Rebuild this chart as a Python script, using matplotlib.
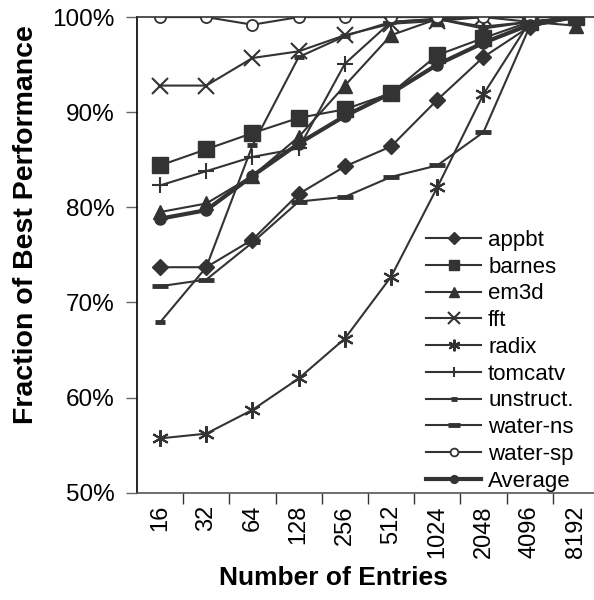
import matplotlib
matplotlib.use("Agg")
import matplotlib.pyplot as plt

plt.rcParams['font.family'] = ['Liberation Sans', 'DejaVu Sans']

entries = ['16', '32', '64', '128', '256', '512', '1024', '2048', '4096', '8192']

appbt = [73.7, 73.7, 76.6, 81.4, 84.3, 86.4, 91.3, 95.8, 99.0, 100.0]
barnes = [84.4, 86.1, 87.8, 89.4, 90.3, 92.0, 96.0, 97.8, 99.5, 100.0]
em3d = [79.5, 80.4, 83.3, 87.4, 92.8, 98.1, 99.8, 98.8, 99.5, 99.1]
fft = [92.8, 92.8, 95.7, 96.4, 98.1, 99.3, 99.6, 100.0, 100.0, 100.0]
radix = [55.7, 56.2, 58.7, 62.0, 66.2, 72.7, 82.1, 91.9, 99.5, 100.0]
tomcatv = [82.3, 83.8, 85.3, 86.2, 95.1, 99.5, 99.8, 100.0, 99.5, 100.0]
unstruct = [67.9, 73.7, 86.5, 95.8, 98.0, 99.5, 99.8, 99.0, 99.5, 100.0]
water_ns = [71.7, 72.4, 76.3, 80.6, 81.1, 83.2, 84.4, 87.9, 99.0, 100.0]
water_sp = [100.0, 100.0, 99.2, 100.0, 100.0, 100.0, 100.0, 100.0, 100.0, 100.0]
average = [78.8, 79.7, 83.3, 86.7, 89.6, 92.0, 95.0, 97.3, 99.2, 100.0]

c = '#333333'
x = list(range(len(entries)))

fig = plt.figure(figsize=(5.94, 6.0), dpi=100)
ax = fig.add_axes([0.2306, 0.179, 0.7778, 0.7925])

# (label, values, marker, markersize, extra kwargs)
series = [
    ('appbt', appbt, 'D', 8.5, {}),
    ('barnes', barnes, 's', 11, {}),
    ('em3d', em3d, '^', 10, {}),
    ('fft', fft, 'x', 12, {'mew': 1.5}),
    ('radix', radix, (6, 2, 0), 12, {'mew': 1.5}),
    ('tomcatv', tomcatv, '+', 11, {'mew': 1.5}),
    ('unstruct.', unstruct, '_', 7, {'mew': 3.5}),
    ('water-ns', water_ns, '_', 12, {'mew': 3.5}),
    ('water-sp', water_sp, 'o', 8, {'mfc': 'white', 'mew': 1.3}),
]
for name, vals, m, ms, kw in series:
    ax.plot(x, vals, color=c, lw=1.5, marker=m, ms=ms, mec=c, label=name, **kw)
ax.plot(x, average, color=c, lw=3, marker='o', ms=8, label='Average')

ax.set_xlim(-0.5, 9.5)
ax.set_ylim(50, 100)
ax.set_yticks([50, 60, 70, 80, 90, 100])
ax.set_yticklabels(['%d%%' % v for v in [50, 60, 70, 80, 90, 100]])
ax.tick_params(axis='y', length=8, width=1, color='#666666', pad=8, labelsize=17.5)

ax.set_xticks(x)
ax.set_xticklabels(entries, rotation=90, fontsize=17)
ax.tick_params(axis='x', which='major', length=0, pad=9)
ax.set_xticks([i - 0.5 for i in range(1, 11)], minor=True)
ax.tick_params(axis='x', which='minor', length=8, width=1, color='#333333')

ax.spines['right'].set_visible(False)
for s in ['left', 'bottom', 'top']:
    ax.spines[s].set_linewidth(1.2)
ax.spines['top'].set_color('#333333')
ax.spines['bottom'].set_color('#555555')

leg = ax.legend(loc='upper left', bbox_to_anchor=(0.717, 0.617),
                bbox_transform=fig.transFigure, frameon=False, fontsize=16,
                handlelength=2.5, handletextpad=0.3, labelspacing=0.26,
                borderpad=0, borderaxespad=0, markerscale=0.7)

fig.text(0.044, 0.625, 'Fraction of Best Performance', rotation=90,
         ha='center', va='center', fontsize=20.5, fontweight='bold')
fig.text(0.562, 0.037, 'Number of Entries', ha='center', va='center',
         fontsize=19, fontweight='bold')

fig.savefig('out.png', dpi=100)
